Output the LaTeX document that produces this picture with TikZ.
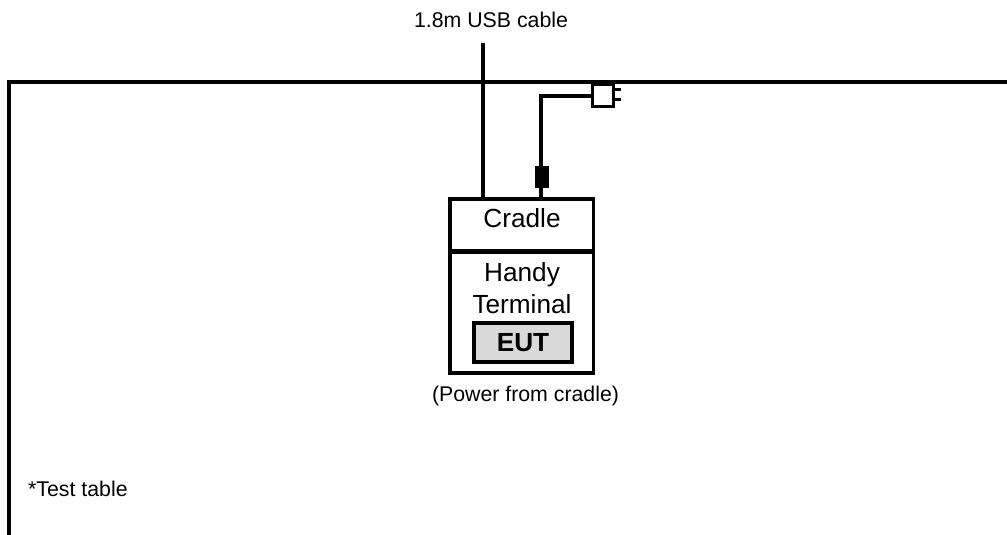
\documentclass[tikz,border=0pt]{standalone}
\usepackage{fontspec}
\setmainfont{Liberation Sans}
\tikzset{
  x=1pt,y=-1pt,
  boxn/.style={draw=black,line width=3.5pt,fill=white,inner sep=0pt,outer sep=0pt,anchor=north west},
  big/.style={font=\fontsize{26.2}{30}\selectfont,inner sep=0pt},
  small/.style={font=\fontsize{21.3}{25}\selectfont,inner sep=0pt},
  thick line/.style={line width=4pt},
  cord/.style={line width=3.5pt},
}
\begin{document}
\begin{tikzpicture}
\useasboundingbox (0,0) rectangle (1007,535);
% table edge
\coordinate (tl) at (9,535);
\coordinate (tc) at (9,82);
\coordinate (tr) at (1007,82);
\draw[thick line,line cap=butt,line join=miter] (tl) -- (tc) -- (tr);
% boxes
\node[boxn,minimum width=143.5pt,minimum height=51.5pt] (cradle) at (450,199) {};
\node[boxn,minimum width=143.5pt,minimum height=121pt] (term) at (450,252) {};
\node[big] (cradlet) at (522,218.5) {Cradle};
\node[big] (handy) at (522,274.9) {Handy};
\node[big] (termt) at (522,304.5) {Terminal};
\node[boxn,fill={rgb,255:red,217;green,217;blue,217},minimum width=98pt,minimum height=39pt] (eut) at (474,323) {};
\node[big,font=\fontsize{26.2}{30}\selectfont\bfseries] (eutt) at (523,343) {EUT};
% USB cable
\coordinate (usbtop) at (483,43);
\coordinate (usbbot) at (483,199);
\draw[thick line] (usbtop) -- (usbbot);
\node[small] (usbl) at (491,20) {1.8m USB cable};
% power cord
\coordinate (plugleft) at (593,96);
\coordinate (cordbot) at (541,199);
\draw[cord] (plugleft) -| (cordbot);
\node[draw=black,line width=3pt,fill=white,inner sep=0pt,outer sep=0pt,minimum width=21pt,minimum height=21pt] (plug) at (603,95.5) {};
\coordinate (p1a) at (613,89.5);
\coordinate (p1b) at (621,89.5);
\coordinate (p2a) at (613,99.5);
\coordinate (p2b) at (621,99.5);
\draw[line width=3pt] (p1a) -- (p1b);
\draw[line width=3pt] (p2a) -- (p2b);
\node[fill=black,inner sep=0pt,minimum width=14pt,minimum height=22pt] (ferrite) at (542,177) {};
% labels
\node[small] (power) at (525.5,395.5) {(Power from cradle)};
\node[small,anchor=west] (tt) at (28,489) {*Test table};
\end{tikzpicture}
\end{document}
